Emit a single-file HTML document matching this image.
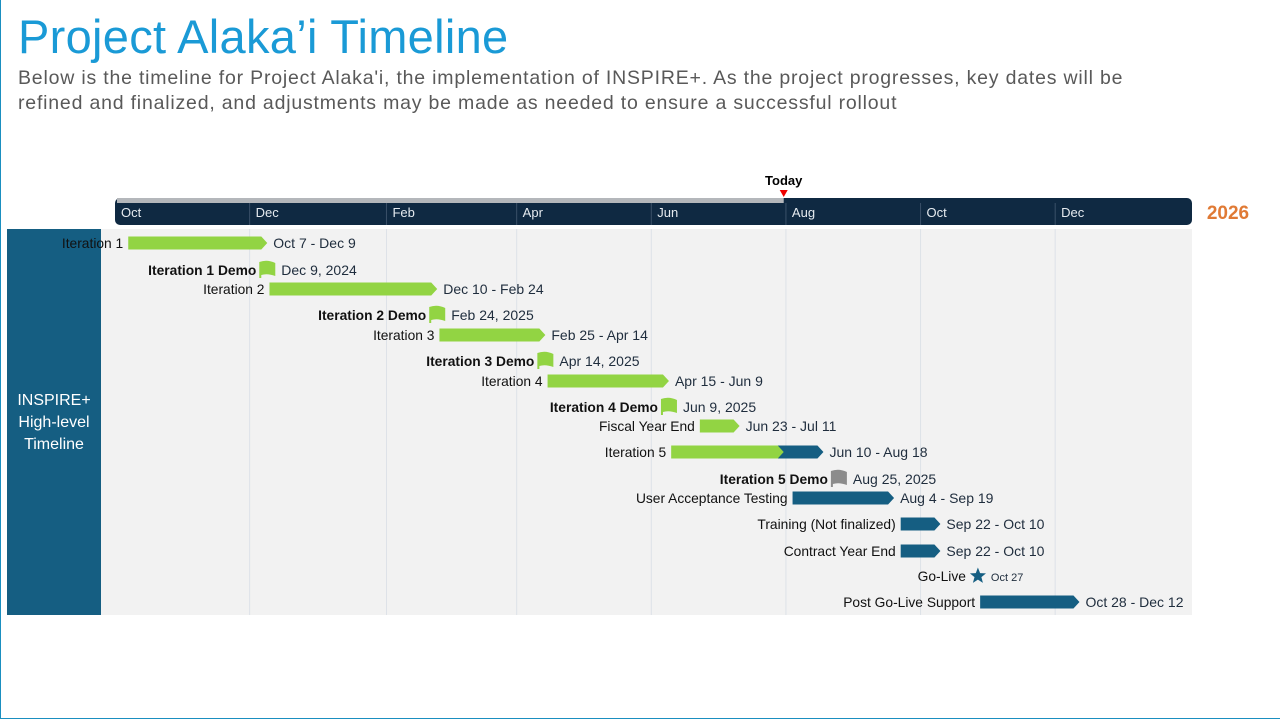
<!DOCTYPE html>
<html><head><meta charset="utf-8">
<style>
body{margin:0;width:1280px;height:720px;background:#fff;position:relative;overflow:hidden;font-family:"Liberation Sans",sans-serif}
#frame{position:absolute;left:0;top:0;width:1279px;height:718px;border-left:1px solid #1a8fc0;border-bottom:1px solid #1a8fc0}
h1{position:absolute;left:18px;top:9px;margin:0;font-weight:normal;font-size:47px;color:#1a9ad6;letter-spacing:0.3px}
#sub{position:absolute;left:18px;top:66px;font-size:19.5px;line-height:25px;color:#595959;width:1250px;letter-spacing:0.8px}
svg{position:absolute;left:0;top:0}
</style></head><body>
<div id="frame"></div>
<h1>Project Alaka’i Timeline</h1>
<div id="sub">Below is the timeline for Project Alaka'i, the implementation of INSPIRE+. As the project progresses, key dates will be<br>refined and finalized, and adjustments may be made as needed to ensure a successful rollout</div>
<svg id="chart" width="1280" height="720"></svg>
<script>
const monthLabels=["Oct","Dec","Feb","Apr","Jun","Aug","Oct","Dec"];
const monthDates=["2024-10-01","2024-12-01","2025-02-01","2025-04-01","2025-06-01","2025-08-01","2025-10-01","2025-12-01"];
const todayDate="2025-07-31";
const taskNames=["Iteration 1","Iteration 1 Demo","Iteration 2","Iteration 2 Demo","Iteration 3","Iteration 3 Demo","Iteration 4","Iteration 4 Demo","Fiscal Year End","Iteration 5","Iteration 5 Demo","User Acceptance Testing","Training (Not finalized)","Contract Year End","Go-Live","Post Go-Live Support"];
const taskKinds=["bar","flag","bar","flag","bar","flag","bar","flag","bar","bar","flag","bar","bar","bar","star","bar"];
const taskStarts=["2024-10-07","2024-12-09","2024-12-10","2025-02-24","2025-02-25","2025-04-14","2025-04-15","2025-06-09","2025-06-23","2025-06-10","2025-08-25","2025-08-04","2025-09-22","2025-09-22","2025-10-27","2025-10-28"];
const taskEnds=["2024-12-09","2024-12-09","2025-02-24","2025-02-24","2025-04-14","2025-04-14","2025-06-09","2025-06-09","2025-07-11","2025-08-18","2025-08-25","2025-09-19","2025-10-10","2025-10-10","2025-10-27","2025-12-12"];
const taskDateText=["Oct 7 - Dec 9","Dec 9, 2024","Dec 10 - Feb 24","Feb 24, 2025","Feb 25 - Apr 14","Apr 14, 2025","Apr 15 - Jun 9","Jun 9, 2025","Jun 23 - Jul 11","Jun 10 - Aug 18","Aug 25, 2025","Aug 4 - Sep 19","Sep 22 - Oct 10","Sep 22 - Oct 10","Oct 27","Oct 28 - Dec 12"];
const rowY=[243,270,289,315,335,361,381,407,426,452,479,498,524,551,576,602];

const NS="http://www.w3.org/2000/svg";
const svg=document.getElementById('chart');
const X0=115,PXD=2.207,BASE=Date.UTC(2024,9,1);
function xs(d){const p=d.split('-');return X0+(Date.UTC(+p[0],p[1]-1,+p[2])-BASE)/86400000*PXD;}
function el(t,a,txt){const e=document.createElementNS(NS,t);for(const k in a)e.setAttribute(k,a[k]);if(txt!=null)e.textContent=txt;svg.appendChild(e);return e;}
const DARK="#0f2942",BLUE="#155e82",GREEN="#92d443";
let e;
e=el('rect',{x:101,y:229,width:1091,height:386,fill:'#f2f2f2'});


e=el('rect',{x:7,y:229,width:94,height:386,fill:BLUE});


["INSPIRE+","High-level","Timeline"].forEach((t,i)=>{
 e=el('text',{x:54,y:405+i*22,'text-anchor':'middle','font-size':16,fill:'#fff'},t);
 
 
});
e=el('rect',{x:115,y:198,width:1077,height:27,rx:5,fill:DARK});


const tx=xs(todayDate);
e=el('rect',{x:117,y:198,width:tx-117,height:5,fill:'#b4b7bb'});


monthDates.forEach((d,i)=>{
 const x=xs(d);
 if(i>0){
 e=el('line',{x1:x,y1:203,x2:x,y2:225,stroke:'#3a5068','stroke-width':1});
 
 
 e=el('line',{x1:x,y1:229,x2:x,y2:615,stroke:'#dde2e8','stroke-width':1});
 
 }
 e=el('text',{x:x+6,y:217,'font-size':13,fill:'#e6ebf0'},monthLabels[i]);
 
 
});
e=el('text',{x:1228,y:219,'text-anchor':'middle','font-size':19,'font-weight':'bold',fill:'#e07a35'},'2026');


e=el('text',{x:tx,y:185,'text-anchor':'middle','font-size':13,'font-weight':'bold',fill:'#000'},'Today');


e=el('polygon',{points:`${tx-4},190 ${tx+4},190 ${tx},197`,fill:'#e00'});



taskNames.forEach((n,i)=>{
 const y=rowY[i],kind=taskKinds[i],x1=xs(taskStarts[i]),x2=xs(taskEnds[i]);
 let lx,rx;
 if(kind==='bar'){
  const h=13,t=y-6.5;
  const poly=(a,b)=>`${a},${t} ${b-6},${t} ${b},${y} ${b-6},${t+h} ${a},${t+h}`;
  if(i===9){
   const mid=xs(todayDate);
   e=el('polygon',{points:poly(mid-6,x2),fill:BLUE});
   
   
   e=el('polygon',{points:poly(x1,mid),fill:GREEN});
  } else {
   e=el('polygon',{points:poly(x1,x2),fill:x2<=xs(todayDate)?GREEN:BLUE});
  }
  
  
  lx=x1-5;rx=x2+6;
 } else if(kind==='flag'){
  const c=x1,col=x1>xs(todayDate)?'#8c8c8c':GREEN;
  e=el('path',{d:`M${c-8},${y-8} Q${c},${y-11} ${c+8},${y-7} L${c+8},${y+6} Q${c},${y+3} ${c-6},${y+5} L${c-6},${y+8} L${c-8},${y+8} Z`,fill:col});
  
  
  lx=c-11;rx=c+14;
 } else {
  const c=x1;let pts=[];
  for(let k=0;k<10;k++){const r=k%2?3.6:8.5,a=-Math.PI/2+k*Math.PI/5;pts.push((c+r*Math.cos(a)).toFixed(1)+','+(y+r*Math.sin(a)).toFixed(1));}
  e=el('polygon',{points:pts.join(' '),fill:BLUE});
  
  
  lx=c-12;rx=c+13;
 }
 e=el('text',{x:lx,y:y+5,'text-anchor':'end','font-size':13.8,'font-weight':kind==='flag'?'bold':'normal',fill:'#111'},n);
 
 
 e=el('text',{x:rx,y:y+5,'font-size':kind==='star'?11:14,fill:'#1f2d3d'},taskDateText[i]);
 
 
});
</script>
</body></html>
